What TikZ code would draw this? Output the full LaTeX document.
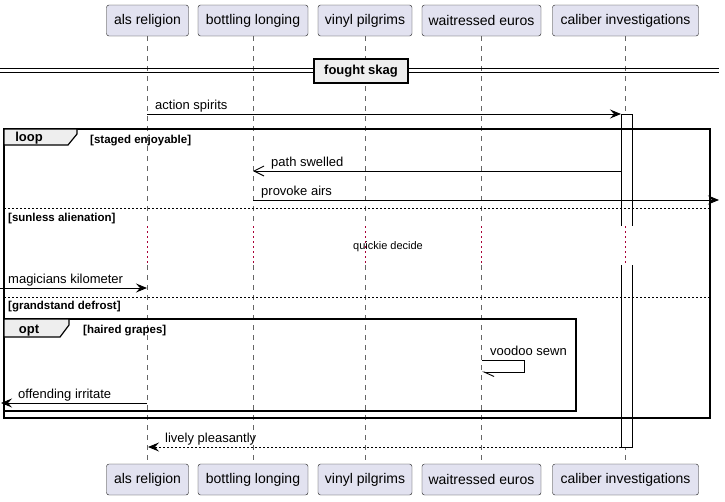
\documentclass[tikz,border=0pt]{standalone}
\usepackage{fontspec}
\setmainfont{Liberation Sans}
\usetikzlibrary{arrows.meta}

\definecolor{partfill}{HTML}{E2E2F0}
\definecolor{partdraw}{HTML}{181818}
\definecolor{tabfill}{HTML}{EEEEEE}
\definecolor{delayred}{HTML}{A80036}

\tikzset{
  part/.style={draw=partdraw, fill=partfill, rounded corners=2.5pt, minimum height=31pt, inner sep=0pt, font=\fontsize{14}{16}\selectfont},
  lifeline/.style={draw=gray!80!black, line width=0.6pt, dash pattern=on 5pt off 5pt},
  delayline/.style={draw=delayred, line width=1pt, dash pattern=on 2pt off 3pt},
  msg/.style={draw=black, line width=0.9pt},
  fullhead/.style={-{Stealth[length=11pt,width=9pt,inset=4pt]}},
  openhead/.style={-{Straight Barb[length=10pt,width=10pt]}},
  halfhead/.style={-{Straight Barb[harpoon,length=10pt,width=9pt]}},
  msglabel/.style={anchor=base west, inner sep=0pt, font=\fontsize{13}{15}\selectfont},
  frame/.style={draw=black, line width=1.5pt},
  tab/.style={fill=tabfill, draw=black, line width=1.2pt},
  tablabel/.style={anchor=base, inner sep=0pt, font=\bfseries\fontsize{13}{15}\selectfont},
  guard/.style={anchor=base west, inner sep=0pt, font=\bfseries\fontsize{11.5}{13}\selectfont},
  elsesep/.style={draw=black, line width=0.6pt, dash pattern=on 2pt off 2pt},
}

\begin{document}
\begin{tikzpicture}[x=1pt, y=-1pt]
\useasboundingbox (0,0) rectangle (725,501);

% participants and their lifelines
\foreach \id/\name/\x/\w in {als/als religion/147.5/82, bot/bottling longing/253/110, vin/vinyl pilgrims/365/94, wai/waitressed euros/481.5/119, cal/caliber investigations/625.5/146}{
  \node[part, minimum width=\w pt] (\id top) at (\x,20.5) {\name};
  \node[part, minimum width=\w pt] (\id bot) at (\x,479.5) {\name};
  \coordinate (\id d1) at (\x,226);
  \coordinate (\id d2) at (\x,265);
  \draw[lifeline] (\id top) -- (\id d1);
  \draw[lifeline] (\id d2) -- (\id bot);
}

% divider
\draw[line width=1pt] (0,68) -- (719,68);
\draw[line width=1pt] (0,72) -- (719,72);
\node[fill=tabfill, draw=black, line width=1.5pt, minimum width=94pt, minimum height=24pt, inner sep=0pt, font=\bfseries\fontsize{13}{15}\selectfont] (divider) at (361,71) {fought skag};

% activation of caliber investigations
\fill[white] (621,114) rectangle (632,226);
\fill[white] (621,265) rectangle (632,447);
\draw[line width=0.9pt] (621,226) -- (621,114) -- (632,114) -- (632,226);
\draw[line width=0.9pt] (621,265) -- (621,447) -- (632,447) -- (632,265);

% delay
\foreach \id in {als, bot, vin, wai, cal}
  \draw[delayline] (\id d1) -- (\id d2);
\node[inner sep=0pt, font=\fontsize{11}{13}\selectfont] (delay) at (388,247) {quickie decide};

% loop frame
\draw[frame] (4,129) rectangle (710,418);
\filldraw[tab] (4,129) -- (77,129) -- (77,134) -- (68,145) -- (4,145) -- cycle;
\node[tablabel] (looplbl) at (29,141) {loop};
\node[guard] (g1) at (90,143.5) {[staged enjoyable]};
\draw[elsesep] (4,208) -- (710,208);
\node[guard] (g2) at (8,221.5) {[sunless alienation]};
\draw[elsesep] (4,297) -- (710,297);
\node[guard] (g3) at (8,309.5) {[grandstand defrost]};

% opt frame
\draw[frame] (4,319) rectangle (576,411);
\filldraw[tab] (4,319) -- (69,319) -- (69,325) -- (60,337) -- (4,337) -- cycle;
\node[tablabel] (optlbl) at (29,333) {opt};
\node[guard] (g4) at (83,333.5) {[haired grapes]};

% messages
\coordinate (als m1) at (147,114);
\coordinate (cal m1) at (621,114);
\draw[msg, fullhead] (als m1) -- (cal m1);
\node[msglabel] (m1) at (155,109) {action spirits};

\coordinate (cal m2) at (621,171);
\coordinate (bot m2) at (253,171);
\draw[msg, openhead] (cal m2) -- (bot m2);
\node[msglabel] (m2) at (271,166) {path swelled};

\coordinate (bot m3) at (253,200);
\coordinate (out m3) at (719,200);
\draw[msg, fullhead] (bot m3) -- (out m3);
\node[msglabel] (m3) at (261,195) {provoke airs};

\coordinate (in m4) at (0,288);
\coordinate (als m4) at (147,288);
\draw[msg, fullhead] (in m4) -- (als m4);
\node[msglabel] (m4) at (8,283) {magicians kilometer};

\coordinate (wai m5) at (482,360);
\coordinate (wai m5b) at (482,372);
\draw[msg, halfhead] (wai m5) -- (524,360) -- (524,372) -- (wai m5b);
\node[msglabel] (m5) at (490,355) {voodoo sewn};

\coordinate (als m6) at (147,403);
\coordinate (out m6) at (1,403);
\draw[msg, fullhead] (als m6) -- (out m6);
\node[msglabel] (m6) at (18,398) {offending irritate};

\coordinate (cal m7) at (621,447);
\coordinate (als m7) at (148,447);
\draw[msg, fullhead, dash pattern=on 2pt off 2pt] (cal m7) -- (als m7);
\node[msglabel] (m7) at (165,442) {lively pleasantly};
\end{tikzpicture}
\end{document}
